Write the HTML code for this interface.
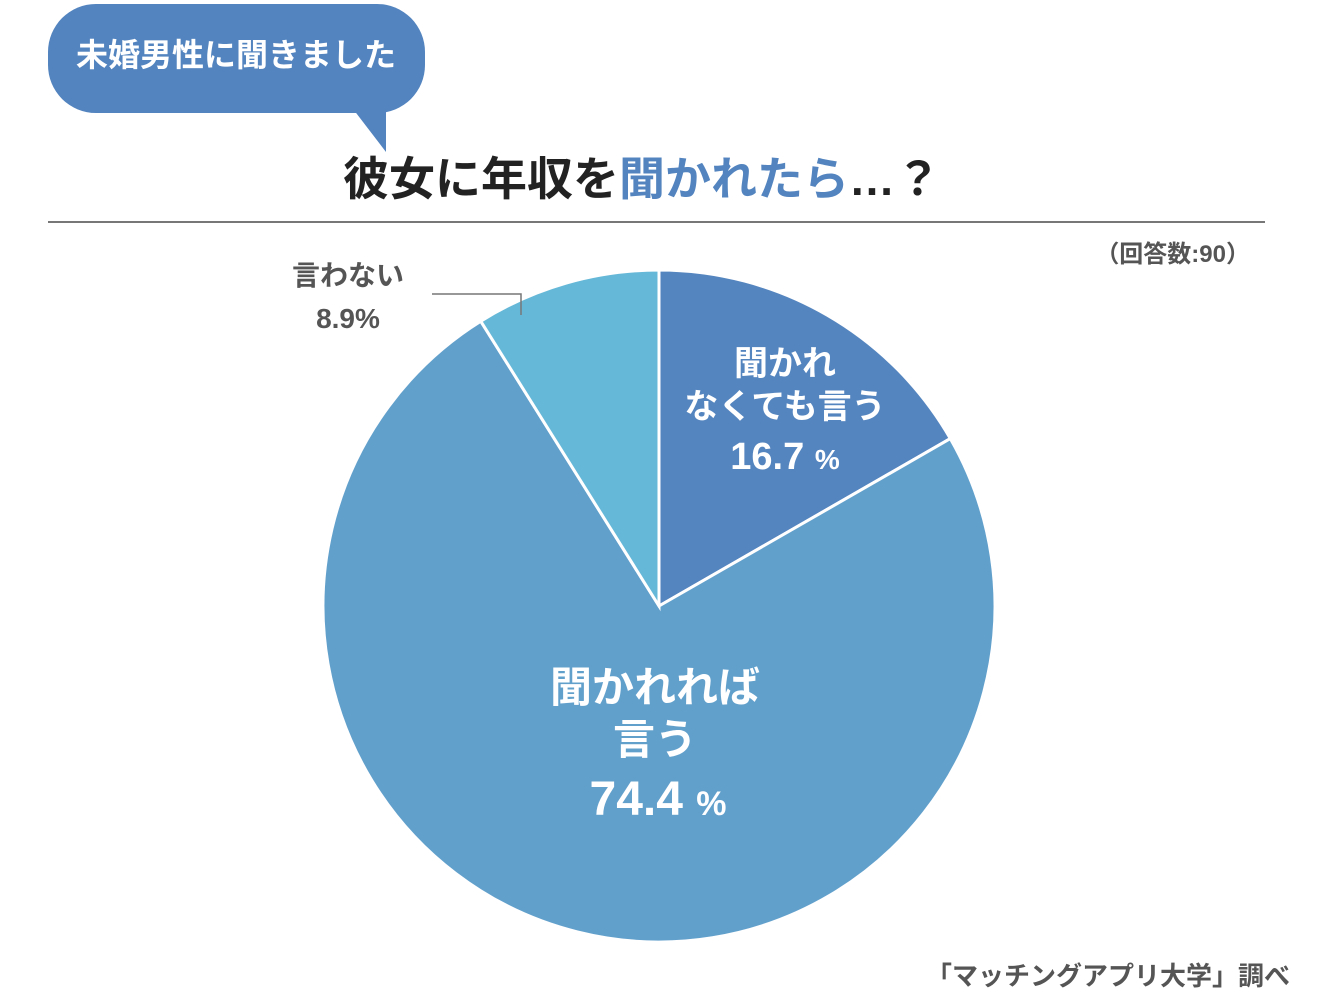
<!DOCTYPE html>
<html><head><meta charset="utf-8">
<style>
body{margin:0;width:1320px;height:1000px;background:#fff;overflow:hidden;font-family:"Liberation Sans","Noto Sans CJK JP",sans-serif;}
svg text{font-family:"Liberation Sans","Noto Sans CJK JP",sans-serif;font-weight:bold;}
</style></head><body>
<svg width="1320" height="1000">
<g>
<rect x="48" y="4" width="377" height="109" rx="48" fill="#5384bf"/>
<polygon points="350,105 386,105 386,152" fill="#5384bf"/>
<text x="236" y="66" font-size="32" fill="#fff" text-anchor="middle">未婚男性に聞きました</text>
</g>
<text x="642" y="195" font-size="46" text-anchor="middle" fill="#222">彼女に年収を<tspan fill="#5384bf">聞かれたら</tspan>…？</text>
<line x1="48" y1="222" x2="1265" y2="222" stroke="#777" stroke-width="2"/>
<text x="1250" y="262" font-size="24" fill="#555" text-anchor="end">（回答数:90）</text>
<g id="pie"></g>
<polyline points="432,294 521,294 521,315" fill="none" stroke="#777" stroke-width="1.5"/>
<text x="348" y="285" font-size="28" fill="#555" text-anchor="middle">言わない</text>
<text x="348" y="328" font-size="28" fill="#555" text-anchor="middle">8.9%</text>
<text x="785" y="375" font-size="34" fill="#fff" text-anchor="middle">聞かれ</text>
<text x="785" y="418" font-size="34" fill="#fff" text-anchor="middle">なくても言う</text>
<text x="785" y="469" font-size="38" fill="#fff" text-anchor="middle">16.7 <tspan font-size="28">%</tspan></text>
<text x="655" y="702" font-size="42" fill="#fff" text-anchor="middle">聞かれれば</text>
<text x="655" y="754" font-size="42" fill="#fff" text-anchor="middle">言う</text>
<text x="658" y="815" font-size="48" fill="#fff" text-anchor="middle">74.4 <tspan font-size="34">%</tspan></text>
<text x="1290" y="985" font-size="26" fill="#555" text-anchor="end">「マッチングアプリ大学」調べ</text>
</svg>
<script>
const categories=["聞かれなくても言う","聞かれれば言う","言わない"];
const values=[16.7,74.4,8.9];
const colors=["#5585bf","#62a0cc","#66b8d8"];
const cx=659,cy=606,r=336;
const g=document.getElementById('pie');
const total=values.reduce((a,b)=>a+b,0);
let a0=0;
values.forEach((v,i)=>{
  const a1=a0+v/total*2*Math.PI;
  const x0=cx+r*Math.sin(a0),y0=cy-r*Math.cos(a0),x1=cx+r*Math.sin(a1),y1=cy-r*Math.cos(a1);
  const p=document.createElementNS('http://www.w3.org/2000/svg','path');
  p.setAttribute('d',`M${cx},${cy}L${x0},${y0}A${r},${r} 0 ${a1-a0>Math.PI?1:0} 1 ${x1},${y1}Z`);
  p.setAttribute('fill',colors[i]);p.setAttribute('stroke','#fff');p.setAttribute('stroke-width','3');
  
  
  g.appendChild(p);a0=a1;
});
</script>
</body></html>
